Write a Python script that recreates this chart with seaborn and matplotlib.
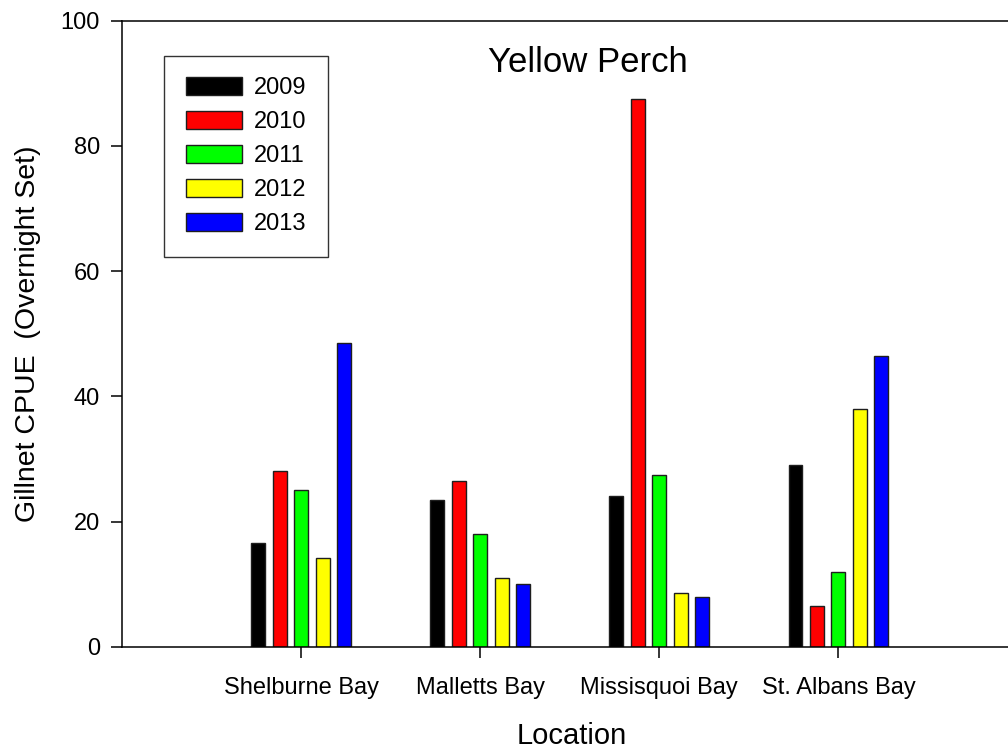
import matplotlib
matplotlib.use("Agg")
import matplotlib.pyplot as plt
import pandas as pd
import seaborn as sns

# Gillnet catch per unit effort (overnight sets) for yellow perch
locations = ["Shelburne Bay", "Malletts Bay", "Missisquoi Bay", "St. Albans Bay"]
years = ["2009", "2010", "2011", "2012", "2013"]
cpue_2009 = [16.5, 23.5, 24.0, 29.0]
cpue_2010 = [28.0, 26.5, 87.5, 6.5]
cpue_2011 = [25.0, 18.0, 27.5, 12.0]
cpue_2012 = [14.2, 11.0, 8.5, 38.0]
cpue_2013 = [48.5, 10.0, 8.0, 46.5]
year_colors = ["#000000", "#ff0000", "#00ff00", "#ffff00", "#0000ff"]
y_ticks = [0, 20, 40, 60, 80, 100]

series = [cpue_2009, cpue_2010, cpue_2011, cpue_2012, cpue_2013]
rows = []
for yr, vals in zip(years, series):
    for loc, v in zip(locations, vals):
        rows.append({"Location": loc, "Year": yr, "CPUE": v})
df = pd.DataFrame(rows)
palette = dict(zip(years, year_colors))

sns.set_style("white")
plt.rcParams["font.family"] = ["Liberation Sans", "DejaVu Sans"]
plt.rcParams["text.color"] = "black"
plt.rcParams["axes.labelcolor"] = "black"
plt.rcParams["xtick.color"] = "black"
plt.rcParams["ytick.color"] = "black"

W, H = 1008, 750
fig = plt.figure(figsize=(W / 100, H / 100), dpi=100)
ax = fig.add_axes([122 / W, 1 - 646.7 / H, (1017.6 - 122) / W, (646.7 - 20.7) / H])

sns.barplot(data=df, x="Location", y="CPUE", hue="Year", order=locations,
            hue_order=years, palette=palette, saturation=1, width=0.6, gap=0.35,
            edgecolor="#1e1e1e", linewidth=1.0, errorbar=None, ax=ax)

ax.set_xlim(-1, 4)
ax.set_ylim(0, 100)
ax.set_yticks(y_ticks)
ax.set_xlabel("")
ax.set_ylabel("")

for side in ["left", "bottom", "top"]:
    ax.spines[side].set_visible(True)
    ax.spines[side].set_color("black")
    ax.spines[side].set_linewidth(1.1)
ax.spines["right"].set_visible(False)

ax.tick_params(axis="both", which="major", direction="out", length=8, width=1.1,
               labelsize=17, bottom=True, left=True, top=False, right=False)
ax.tick_params(axis="x", pad=14)
ax.tick_params(axis="y", pad=8)

handles, labels = ax.get_legend_handles_labels()
leg = ax.legend(handles, labels, loc="upper left",
                bbox_to_anchor=(164.3 / W, 1 - 55.7 / H),
                bbox_transform=fig.transFigure, frameon=True, fancybox=False,
                edgecolor="black", fontsize=17, handlelength=2.4,
                handleheight=0.8, handletextpad=0.5, labelspacing=0.5,
                borderpad=0.9, borderaxespad=0)
leg.get_frame().set_linewidth(1.0)

fig.text(588 / W, 1 - 63 / H, "Yellow Perch", fontsize=25,
         ha="center", va="center")
fig.text(572 / W, 1 - 736 / H, "Location", fontsize=21,
         ha="center", va="center")
fig.text(28 / W, 1 - 334 / H, "Gillnet CPUE  (Overnight Set)", fontsize=20.5,
         rotation=90, ha="center", va="center")

fig.savefig("out.png", dpi=100)
